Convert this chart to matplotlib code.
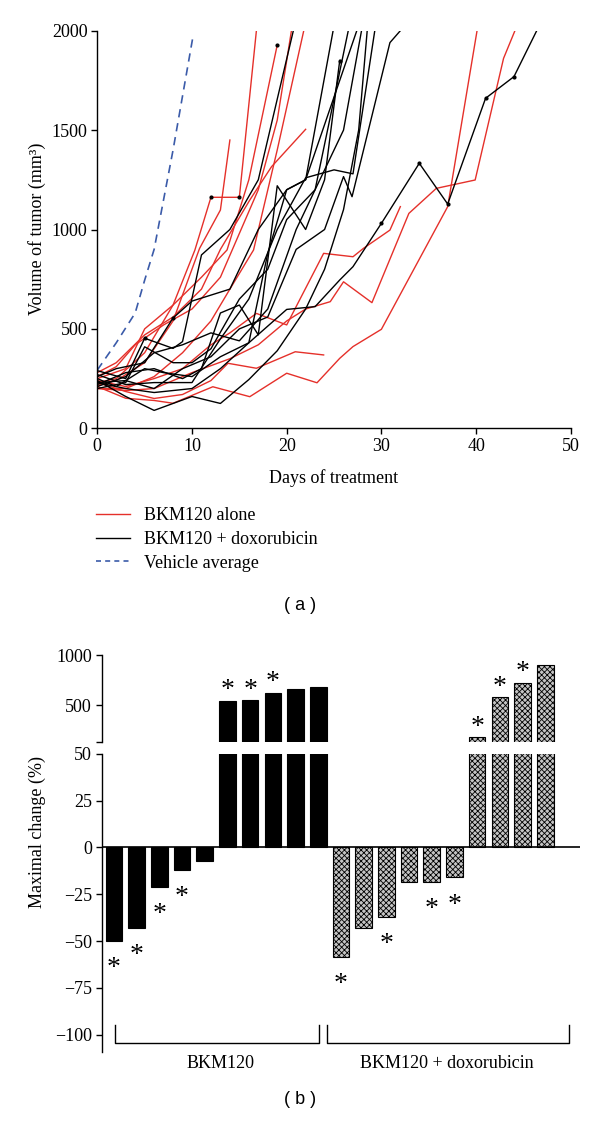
import matplotlib
matplotlib.use('Agg')
import matplotlib.pyplot as plt
from matplotlib.lines import Line2D

plt.rcParams['font.family'] = ['Liberation Serif', 'DejaVu Serif']
plt.rcParams['hatch.linewidth'] = 0.6

# ---------------- Panel (a) data ----------------
vehicle_days = [0, 2, 4, 5, 6, 8, 10.1]
vehicle_vol = [293, 430, 580, 745, 900, 1400, 1970]

bkm_alone_days = [
    [0, 2, 5, 8, 10.3, 12, 15, 16.8],
    [0, 2, 5, 8, 10.8, 13, 14],
    [0, 3, 5, 8, 11, 13.7, 16, 19],
    [0, 3, 6, 9, 12, 14, 16.5, 19, 21.8],
    [0, 2, 5, 8, 11, 13, 16.1, 18.4, 22],
    [0, 3, 6, 8, 12.2, 16.1, 20, 23.2, 25.6, 27, 30, 37, 40.1],
    [0, 3, 6, 9, 12, 13.8, 16.8, 20.9, 23.9],
    [0, 3, 6, 9, 12, 14, 16.8, 20, 23.9, 27, 28.1, 30.9, 32],
    [0, 3, 6, 10, 14, 17, 20, 22, 24.6, 26, 29, 32.9, 35.8, 39.9, 42.9, 44.1],
    [0, 2, 4, 7, 10, 13, 15, 17, 19, 20.5],
]
bkm_alone_vol = [
    [230, 250, 380, 620, 896, 1162, 1162, 2000],
    [215, 240, 330, 540, 905, 1098, 1450],
    [250, 300, 500, 620, 760, 897, 1250, 1928],
    [200, 200, 260, 380, 540, 700, 897, 1400, 2000],
    [280, 330, 470, 560, 700, 900, 1148, 1316, 1504],
    [210, 151, 140, 126, 209, 159, 277, 229, 352, 411, 498, 1115, 2000],
    [230, 185, 150, 170, 240, 327, 302, 385, 369],
    [240, 210, 250, 300, 420, 480, 578, 520, 880, 863, 905, 997, 1115],
    [200, 190, 200, 280, 350, 420, 540, 600, 637, 737, 632, 1081, 1207, 1249, 1861, 2000],
    [260, 310, 420, 520, 600, 760, 980, 1200, 1550, 2000],
]

combo_days = [
    [0, 3, 6, 10, 13, 16, 20, 23, 25.6, 27, 30, 34, 37, 41, 44, 46.4],
    [0, 3, 6, 10, 13, 16, 19, 22, 24, 26, 27.6, 28.5],
    [0, 3, 5, 8, 9, 11, 14, 17, 20.7],
    [0, 2, 5, 8, 10, 14, 17, 20, 22, 24.9],
    [0, 3, 6, 9, 11, 13, 15, 17, 19, 22, 24, 25.6],
    [0, 3, 5, 8, 10, 12, 15, 18, 20, 23, 26.5],
    [0, 2, 5, 7, 10, 13, 16, 18, 20, 22, 27.4],
    [0, 3, 6, 10, 13, 16, 19, 22, 25, 27, 29.3],
    [0, 3, 6, 9, 12, 15, 18, 21, 24, 26, 26.9, 30.9, 32],
    [0, 3, 6, 9, 12, 15, 18, 21, 24, 26, 27.9],
]
combo_vol = [
    [230, 200, 180, 200, 300, 430, 598, 612, 746, 813, 1031, 1333, 1128, 1660, 1769, 2000],
    [240, 160, 90, 160, 125, 245, 390, 600, 800, 1100, 1500, 2000],
    [290, 250, 453, 402, 436, 872, 1000, 1250, 2000],
    [260, 300, 330, 555, 640, 700, 1000, 1200, 1250, 2000],
    [220, 280, 300, 250, 300, 580, 620, 470, 1220, 1000, 1250, 1850],
    [200, 230, 410, 330, 330, 400, 650, 800, 1050, 1200, 2000],
    [250, 210, 300, 280, 260, 360, 430, 880, 1200, 1250, 2000],
    [270, 220, 230, 230, 450, 650, 1000, 1260, 1300, 1280, 2000],
    [230, 240, 200, 300, 360, 500, 560, 900, 1000, 1266, 1165, 1940, 2000],
    [210, 260, 380, 420, 480, 440, 600, 1000, 1300, 1500, 2000],
]

dot_days = [12, 15, 19, 5, 8, 25.6, 30, 34, 37, 41, 44]
dot_vol = [1162, 1162, 1928, 453, 555, 1850, 1031, 1333, 1128, 1660, 1769]

legend_labels = ['BKM120 alone', 'BKM120 + doxorubicin', 'Vehicle average']

# ---------------- Panel (b) data ----------------
bkm_change = [-50, -43, -21, -12, -7, 543, 550, 623, 663, 680]
combo_change = [-58.5, -43, -37, -18.3, -18.3, -16, 177, 577, 723, 897]
bkm_star = [1, 1, 1, 1, 0, 1, 1, 1, 0, 0]
combo_star = [1, 0, 1, 0, 1, 1, 1, 1, 1, 0]
group_labels = ['BKM120', 'BKM120 + doxorubicin']

RED = '#e5302a'
BLUE = '#3b5ba9'
FS = 13

W, H = 600, 1125
fig = plt.figure(figsize=(W / 100, H / 100), dpi=100)


def fx(px):
    return px / W


def fy(py):
    return 1 - py / H


# ---------------- Panel (a) ----------------
ax = fig.add_axes([fx(97.3), fy(428.3), (570.8 - 97.3) / W, (428.3 - 30.7) / H])
for d, v in zip(bkm_alone_days, bkm_alone_vol):
    ax.plot(d, v, color=RED, lw=1.0)
for d, v in zip(combo_days, combo_vol):
    ax.plot(d, v, color='black', lw=1.0)
ax.plot(vehicle_days, vehicle_vol, color=BLUE, lw=1.2, dashes=(5, 3.5))
ax.plot(dot_days, dot_vol, 'o', color='black', ms=2)
ax.set_xlim(0, 50)
ax.set_ylim(0, 2000)
ax.set_xticks(range(0, 51, 10))
ax.set_yticks(range(0, 2001, 500))
for s in ['top', 'right']:
    ax.spines[s].set_visible(False)
for s in ['left', 'bottom']:
    ax.spines[s].set_linewidth(1.0)
ax.tick_params(direction='out', length=4, width=1.0, labelsize=FS, pad=3)
fig.text(fx(334), fy(478), 'Days of treatment', ha='center', va='center', fontsize=FS)
fig.text(fx(37), fy(229), 'Volume of tumor (mm³)', ha='center', va='center',
         rotation=90, fontsize=FS)

handles = [Line2D([], [], color=RED, lw=1.0),
           Line2D([], [], color='black', lw=1.0),
           Line2D([], [], color=BLUE, lw=1.2, dashes=(3, 2.5))]
fig.legend(handles, legend_labels, loc='upper left',
           bbox_to_anchor=(fx(96), fy(507)), frameon=False, fontsize=FS,
           handlelength=1.9, handletextpad=0.75, labelspacing=0.38,
           borderpad=0, borderaxespad=0)
fig.text(fx(300), fy(605), '( a )', ha='center', va='center', fontsize=13,
         family='Liberation Sans')

# ---------------- Panel (b) ----------------
values = bkm_change + combo_change
stars = bkm_star + combo_star
xpos = list(range(len(values)))
n1 = len(bkm_change)
left_px, right_px = 101.7, 580
xl = (-0.54, 20.53)

ax_top = fig.add_axes([fx(left_px), fy(741.7), (right_px - left_px) / W, (741.7 - 655) / H])
ax_bot = fig.add_axes([fx(left_px), fy(1051.7), (right_px - left_px) / W, (1051.7 - 753.7) / H])

for a in (ax_top, ax_bot):
    a.bar(xpos[:n1], values[:n1], width=0.73, color='black', edgecolor='black', lw=0.8)
    a.bar(xpos[n1:], values[n1:], width=0.73, color='#c4c4c4', edgecolor='black',
          lw=0.8, hatch='xxxxxx')
    a.set_xlim(*xl)
    for s in ['top', 'right', 'bottom']:
        a.spines[s].set_visible(False)
    a.spines['left'].set_linewidth(1.0)
    a.set_xticks([])
    a.tick_params(axis='y', direction='out', length=4, width=1.0, labelsize=FS, pad=3)

ax_top.set_ylim(133, 1000)
ax_top.set_yticks([133, 500, 1000])
ax_top.set_yticklabels(['', '500', '1000'])
ax_bot.set_ylim(-109, 50)
ax_bot.set_yticks([50, 25, 0, -25, -50, -75, -100])
ax_bot.set_yticklabels(['50', '25', '0', '−25', '−50', '−75', '−100'])
ax_bot.axhline(0, color='black', lw=1.2)

for x, v, s in zip(xpos, values, stars):
    if not s:
        continue
    if v > 0:
        ax_top.annotate('*', xy=(x, v), xytext=(0, 7), textcoords='offset points',
                        ha='center', va='center', fontsize=20)
    else:
        ax_bot.annotate('*', xy=(x, v), xytext=(0, -20), textcoords='offset points',
                        ha='center', va='center', fontsize=20)

# group brackets
brackets = [(0.04, 9.03), (9.38, 20.04)]
for (x0, x1), lab in zip(brackets, group_labels):
    ax_bot.plot([x0, x0, x1, x1], [-95, -104.5, -104.5, -95], color='black', lw=1.0,
                clip_on=False)
fig.text(fx(221), fy(1063), group_labels[0], ha='center', va='center', fontsize=FS)
fig.text(fx(447), fy(1063), group_labels[1], ha='center', va='center', fontsize=FS)
fig.text(fx(37), fy(832), 'Maximal change (%)', ha='center', va='center',
         rotation=90, fontsize=FS)
fig.text(fx(300), fy(1100), '( b )', ha='center', va='center', fontsize=13,
         family='Liberation Sans')

fig.savefig('out.png', dpi=100)
